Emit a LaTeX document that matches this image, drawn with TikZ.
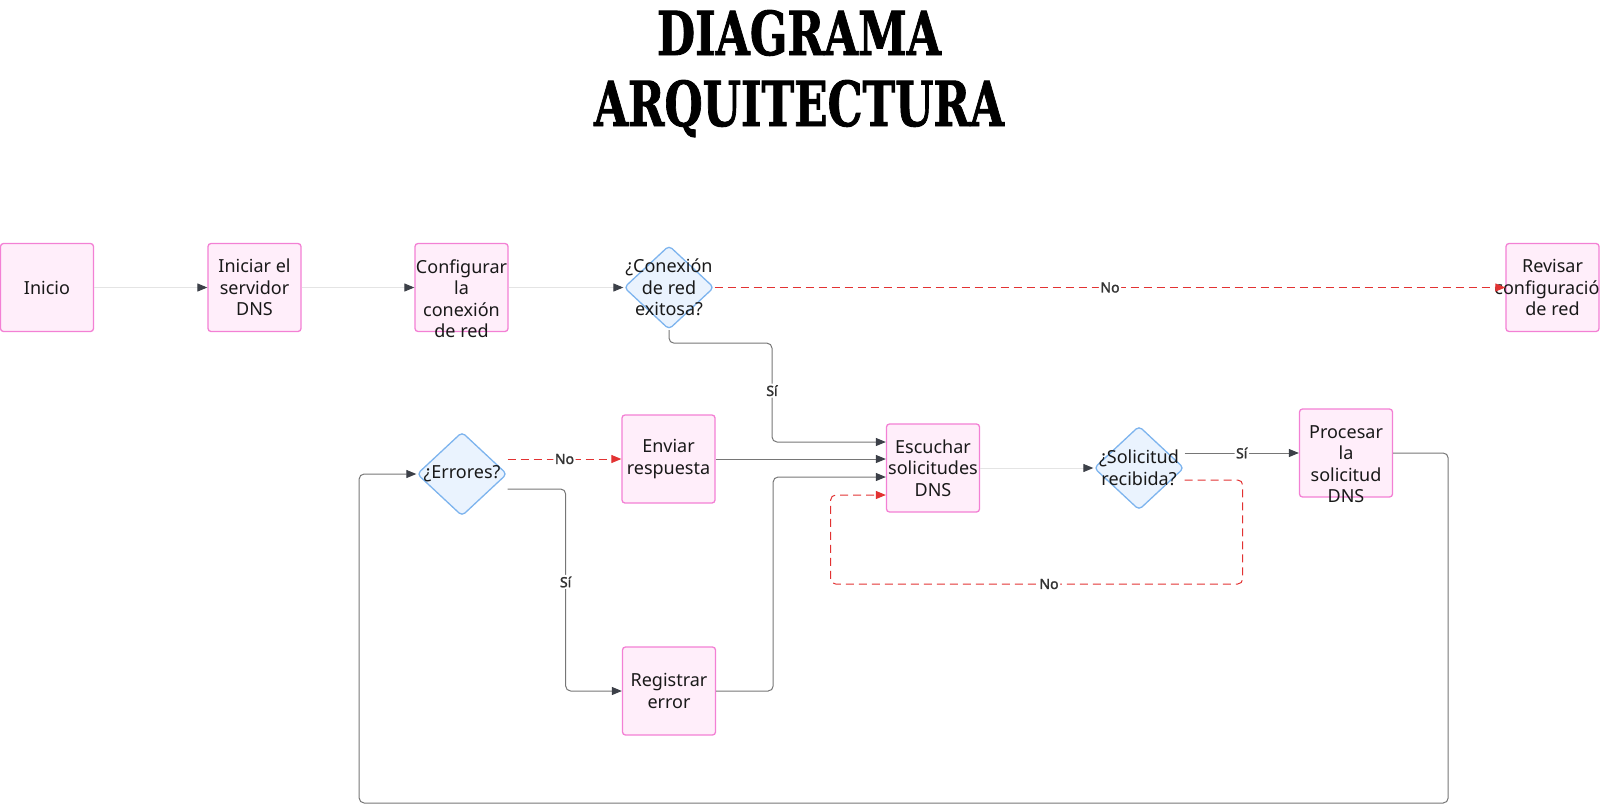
\documentclass[tikz,border=0pt]{standalone}
\usepackage{fontspec}
\setmainfont{Noto Sans}
\newfontfamily\titulo{DejaVu Serif}[FakeBold=1.5]
\newfontfamily\negrita{Noto Sans}[FakeBold=1.8]
\usetikzlibrary{shapes.geometric,arrows.meta,calc}
\definecolor{cajafondo}{RGB}{255,238,250}
\definecolor{cajaborde}{RGB}{243,128,212}
\definecolor{rombofondo}{RGB}{234,243,254}
\definecolor{romboborde}{RGB}{125,180,238}
\definecolor{lineagris}{RGB}{118,118,118}
\definecolor{lineaclara}{RGB}{228,228,228}
\definecolor{puntagris}{RGB}{60,64,72}
\definecolor{rojo}{RGB}{226,50,50}
\definecolor{textogris}{RGB}{51,51,51}

\begin{document}
\begin{tikzpicture}[x=1pt,y=-1pt]
\tikzstyle{caja}=[rectangle, rounded corners=3pt, draw=cajaborde, fill=cajafondo, line width=1.3pt, minimum width=93pt, minimum height=88pt, inner sep=0pt]
\tikzstyle{rombo}=[diamond, rounded corners=4pt, draw=romboborde, fill=rombofondo, line width=1.3pt, minimum width=90pt, minimum height=84pt, inner sep=0pt]
\tikzstyle{texto}=[align=center, inner sep=0pt, font=\fontsize{18}{21.5}\selectfont, text=black!90]
\tikzstyle{flecha}=[draw=lineagris, line width=1pt, rounded corners=5pt, -{Triangle[length=10pt,width=8pt,color=puntagris]}]
\tikzstyle{clara}=[flecha, draw=lineaclara]
\tikzstyle{flechano}=[draw=rojo, line width=1pt, dash pattern=on 8pt off 5pt, rounded corners=5pt, -{Triangle[length=10pt,width=8pt,color=rojo]}]
\tikzstyle{rotulo}=[fill=white, inner sep=1.5pt, font=\negrita\fontsize{14}{14}\selectfont, text=textogris]
\useasboundingbox (0,0) rectangle (1600,806);
\node[anchor=base] (titulo1) at (799,55) {\resizebox{284pt}{45pt}{\titulo\bfseries DIAGRAMA}};
\node[anchor=base] (titulo2) at (799,126) {\resizebox{410pt}{46pt}{\titulo\bfseries ARQUITECTURA}};
\node[caja, label={[texto]center:Inicio}] (inicio) at (47,287.5) {};
\node[caja, label={[texto]center:{Iniciar el\\servidor\\DNS}}] (iniciar) at (254.5,287.5) {};
\node[caja, label={[texto,yshift=-11pt]center:{Configurar\\la\\conexión\\de red}}] (configurar) at (461.5,287.5) {};
\node[rombo, label={[texto]center:{¿Conexión\\de red\\exitosa?}}] (exito) at (669,287.5) {};
\node[caja, label={[texto]center:{Revisar\\configuración\\de red}}] (revisar) at (1552.5,287.5) {};
\node[caja, label={[texto]center:{Escuchar\\solicitudes\\DNS}}] (escuchar) at (933,468) {};
\node[rombo, label={[texto]center:{¿Solicitud\\recibida?}}] (recibida) at (1139,468) {};
\node[caja, label={[texto,yshift=-11pt]center:{Procesar\\la\\solicitud\\DNS}}] (procesar) at (1346,453) {};
\node[rombo, label={[texto]center:{¿Errores?}}] (errores) at (462,474) {};
\node[caja, label={[texto]center:{Enviar\\respuesta}}] (enviar) at (668.5,459) {};
\node[caja, label={[texto]center:{Registrar\\error}}] (registrar) at (669,691) {};
\draw[clara] (inicio.east) -- (iniciar.west);
\draw[clara] (iniciar.east) -- (configurar.west);
\draw[clara] (configurar.east) -- (exito.west);
\draw[flechano] (exito.east) -- node[rotulo]{No} (revisar.west);
\draw[flecha] (exito.south) |- ++(103,13) |- node[rotulo,pos=0.24]{Sí} ($(escuchar.west)+(0,-26)$);
\draw[flecha] (enviar.east) -- (enviar.east -| escuchar.west);
\draw[flecha] (registrar.east) -- ++(57,0) |- ($(escuchar.west)+(0,9)$);
\draw[clara] (escuchar.east) -- (recibida.west);
\draw[flecha] (recibida.east |- procesar.west) -- node[rotulo]{Sí} (procesar.west);
\draw[flechano] ($(recibida.east)+(0,12)$) -- ++(58,0) -- ++(0,104) -- node[rotulo,pos=0.47]{No} ++(-412,0) |- ($(escuchar.west)+(0,27)$);
\draw[flecha] (procesar.east) -- ++(55,0) |- ++(-1089,350) |- (errores.west);
\draw[flechano] (errores.east |- enviar.west) -- node[rotulo]{No} (enviar.west);
\draw[flecha] ($(errores.east)+(0,15)$) -- ++(58,0) |- node[rotulo,pos=0.23]{Sí} (registrar.west);
\end{tikzpicture}
\end{document}
